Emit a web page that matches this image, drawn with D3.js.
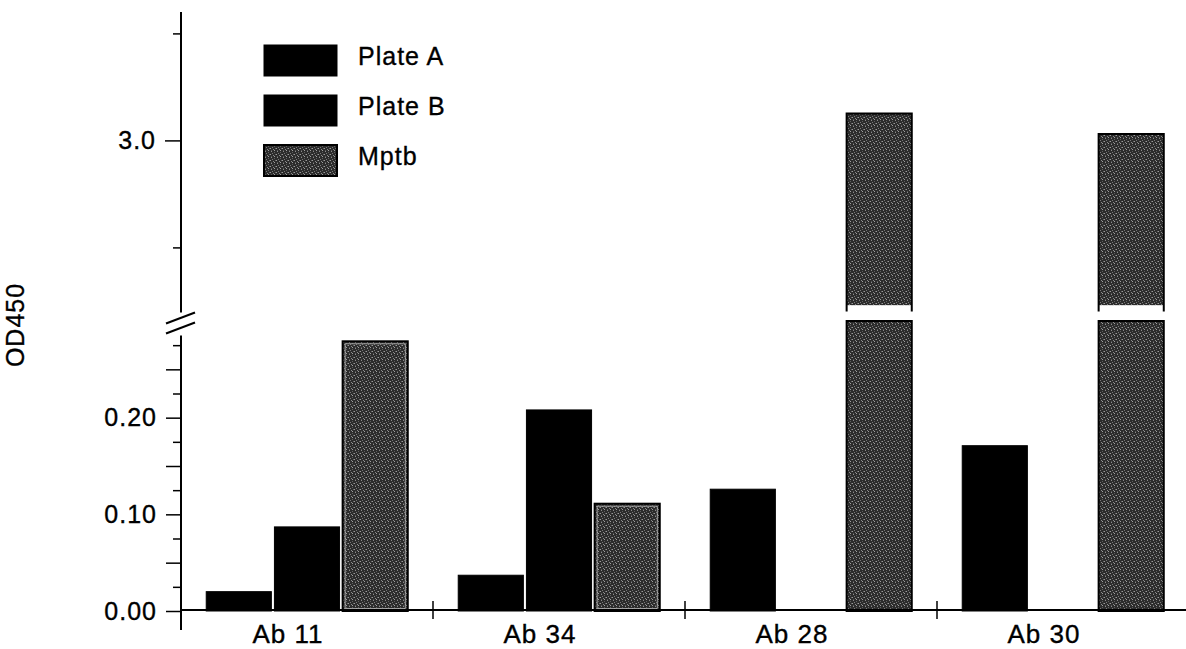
<!DOCTYPE html>
<html>
<head>
<meta charset="utf-8">
<style>
  body { margin: 0; background: #fff; }
  text {
    font-family: "Liberation Sans", Arial, sans-serif;
    font-size: 25px;
    letter-spacing: 1px;
    fill: #000;
    stroke: #000;
    stroke-width: 0.35px;
  }
  .xlab text { font-size: 26px; }
</style>
</head>
<body>
<svg width="1186" height="649"></svg>
<script src="https://d3js.org/d3.v7.min.js"></script>
<script>

var categories = ["Ab 11", "Ab 34", "Ab 28", "Ab 30"];
var series = ["Plate A", "Plate B", "Mptb"];
var plateA = [0.020, 0.037, 0.126, 0.171];
var plateB = [0.087, 0.208, 0.0, 0.0];
var mptb   = [0.279, 0.111, 3.126, 3.03];

var lowMajor = [0, 0.05, 0.10, 0.15, 0.20, 0.25];
var lowMinor = [0.025, 0.075, 0.125, 0.175, 0.225, 0.275];
var lowLabels = [0, 0.10, 0.20];
var upMajor = [3.0];
var upMinor = [2.5, 3.5];

var svg = d3.select("svg");

// speckled grey fill for Mptb
var defs = svg.append("defs");
var pat = defs.append("pattern")
    .attr("id", "speck")
    .attr("width", 6).attr("height", 6)
    .attr("patternUnits", "userSpaceOnUse");
pat.append("rect").attr("width", 6).attr("height", 6).attr("fill", "#2c2c2c");
[[1,0,"#8a8a8a"],[4,1,"#5e5e5e"],[2,2,"#7a7a7a"],[0,3,"#9a9a9a"],
 [5,3,"#666"],[3,4,"#888"],[1,5,"#555"],[4,5,"#a0a0a0"]].forEach(function(p) {
  pat.append("rect").attr("x", p[0]).attr("y", p[1])
     .attr("width", 1).attr("height", 1).attr("fill", p[2]);
});

var axisX = 181, baseY = 611;

// x scales
var x0 = d3.scaleBand().domain(categories).range([axisX, 1189]);
var x1 = d3.scaleBand().domain(series).range([0, x0.bandwidth()])
    .paddingInner(0.045).paddingOuter(0.37);

// broken y axis: lower and upper panel
var yLo = d3.scaleLinear().domain([0, 0.3]).range([baseY, 321]);
var yUp = d3.scaleLinear().domain([2.2, 3.6]).range([311.6, 12]);

var rows = categories.map(function(c, i) {
  return { cat: c, vals: [plateA[i], plateB[i], mptb[i]] };
});

var bars = svg.append("g");
rows.forEach(function(r) {
  r.vals.forEach(function(v, j) {
    var x = x0(r.cat) + x1(series[j]), w = x1.bandwidth();
    var isM = series[j] === "Mptb";
    if (v <= 0) return;
    if (v <= 0.3) {
      bars.append("rect")
        .attr("x", x).attr("y", yLo(v))
        .attr("width", w).attr("height", baseY - yLo(v))
        .attr("fill", isM ? "url(#speck)" : "#000")
        .attr("stroke", "#000").attr("stroke-width", isM ? 2 : 1);
      if (isM) {
        bars.append("rect")
          .attr("x", x + 2.5).attr("y", yLo(v) + 2.5)
          .attr("width", w - 5).attr("height", baseY - yLo(v) - 5)
          .attr("fill", "none").attr("stroke", "#bbb").attr("stroke-width", 0.8);
      }
    } else {
      // lower piece, clipped at the top of the lower panel
      bars.append("rect")
        .attr("x", x).attr("y", yLo(0.3))
        .attr("width", w).attr("height", baseY - yLo(0.3))
        .attr("fill", "url(#speck)")
        .attr("stroke", "#000").attr("stroke-width", 2);
      // upper piece
      bars.append("rect")
        .attr("x", x).attr("y", yUp(v))
        .attr("width", w).attr("height", yUp(2.23) - yUp(v))
        .attr("fill", "url(#speck)");
      bars.append("path")
        .attr("d", "M" + x + "," + yUp(2.2) + "V" + yUp(v) + "H" + (x + w) + "V" + yUp(2.2))
        .attr("fill", "none").attr("stroke", "#000").attr("stroke-width", 2);
    }
  });
});

// x axis
var xa = svg.append("g");
xa.append("line")
  .attr("x1", axisX).attr("x2", 1186)
  .attr("y1", baseY - 1).attr("y2", baseY - 1)
  .attr("stroke", "#000").attr("stroke-width", 2);
categories.slice(1).forEach(function(c) {
  xa.append("line")
    .attr("x1", x0(c)).attr("x2", x0(c))
    .attr("y1", baseY - 10).attr("y2", baseY + 8)
    .attr("stroke", "#000").attr("stroke-width", 1.5);
});
svg.append("g").attr("class", "xlab")
  .selectAll("text").data(categories).enter().append("text")
  .attr("x", function(d) { return x0(d) + x0.bandwidth() / 2 - 19; })
  .attr("y", 643)
  .attr("text-anchor", "middle")
  .text(function(d) { return d; });

// y axes
function drawAxis(scale, vals, size, fmt) {
  var g = svg.append("g")
      .attr("transform", "translate(" + axisX + ",0)")
      .call(d3.axisLeft(scale).tickValues(vals).tickSize(size).tickPadding(9)
            .tickFormat(fmt));
  g.select(".domain").remove();
  g.selectAll(".tick line").attr("stroke", "#000").attr("stroke-width", 1.5);
  g.selectAll(".tick text")
    .style("font-size", "25px")
    .style("font-family", "'Liberation Sans', Arial, sans-serif")
    .attr("fill", "#000");
  return g;
}
drawAxis(yLo, lowMajor, 15, function(d) {
  return lowLabels.some(function(l) { return Math.abs(l - d) < 1e-9; }) ? d3.format(".2f")(d) : "";
});
drawAxis(yLo, lowMinor, 8, function() { return ""; });
drawAxis(yUp, upMajor, 16, d3.format(".1f"));
drawAxis(yUp, upMinor, 8, function() { return ""; });

svg.append("line")
  .attr("x1", axisX).attr("x2", axisX)
  .attr("y1", yUp(3.6)).attr("y2", yUp(2.2) + 1)
  .attr("stroke", "#000").attr("stroke-width", 2);
svg.append("line")
  .attr("x1", axisX).attr("x2", axisX)
  .attr("y1", yLo(0.285)).attr("y2", 630)
  .attr("stroke", "#000").attr("stroke-width", 2);

// break marks
var bm = (yUp(2.2) + yLo(0.285)) / 2;
[-5, 5].forEach(function(off) {
  svg.append("line")
    .attr("x1", axisX - 15).attr("y1", bm + off + 5)
    .attr("x2", axisX + 14).attr("y2", bm + off - 6)
    .attr("stroke", "#000").attr("stroke-width", 2);
});

// y title
svg.append("text")
  .attr("transform", "translate(24,325) rotate(-90)")
  .attr("text-anchor", "middle")
  .text("OD450");

// legend
var lg = svg.append("g").selectAll("g").data(series).enter().append("g")
  .attr("transform", function(d, i) { return "translate(264," + (45 + i * 50) + ")"; });
lg.append("rect")
  .attr("width", 73).attr("height", 31)
  .attr("fill", function(d) { return d === "Mptb" ? "url(#speck)" : "#000"; })
  .attr("stroke", "#000").attr("stroke-width", function(d) { return d === "Mptb" ? 2 : 1; });
lg.append("text")
  .attr("x", 94).attr("y", 20)
  .text(function(d) { return d; });

</script>
</body>
</html>
